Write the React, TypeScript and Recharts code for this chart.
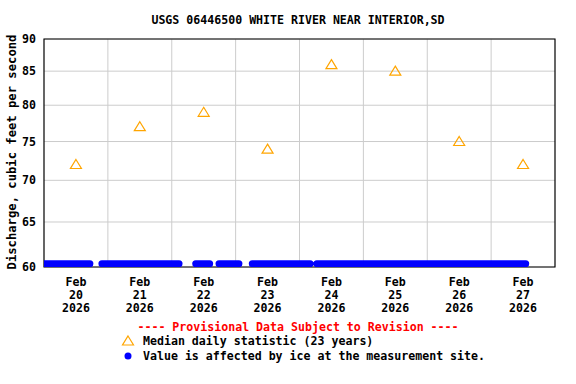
import { CartesianGrid, ComposedChart, Line, ReferenceArea, Scatter, XAxis, YAxis } from 'recharts';

const FONT = '"DejaVu Sans Mono", "Liberation Mono", monospace';

// days of Feb 2026 shown on the x axis (labels sit at noon)
const days = ['20', '21', '22', '23', '24', '25', '26', '27'];
const midnights = [21, 22, 23, 24, 25, 26, 27];
// median daily statistic (23 years), cfs
const medianValues = [72, 77, 79, 74, 86, 85, 75, 72];
const yTicks = [60, 65, 70, 75, 80, 85, 90];

// ice-affected readings sit at the bottom of the scale
const iceValue = 60.35;
const iceSpans = [
  ['20 00:00', '20 17:15'],
  ['20 21:45', '22 02:45'],
  ['22 09:00', '22 14:15'],
  ['22 17:45', '23 01:15'],
  ['23 06:15', '24 04:00'],
  ['24 06:30', '27 13:00'],
];

const toDay = (s: string) => {
  const [d, hm] = s.split(' ');
  const [h, m] = hm.split(':');
  return Number(d) + (Number(h) + Number(m) / 60) / 24;
};

const medianData = days.map((d, i) => ({ t: Number(d) + 0.5, v: medianValues[i] }));

const iceData: { t: number; v: number | null }[] = [];
iceSpans.forEach(([a, b]) => {
  iceData.push({ t: toDay(a), v: iceValue });
  iceData.push({ t: toDay(b), v: iceValue });
  iceData.push({ t: toDay(b), v: null });
});

const DayTick = ({ x, y, payload }: any) => {
  const d = String(Math.floor(payload.value));
  return (
    <g fontFamily={FONT} fontSize={11.6} fontWeight="bold" fill="#000">
      <text x={x} y={y + 19} textAnchor="middle">Feb</text>
      <text x={x} y={y + 32} textAnchor="middle">{d}</text>
      <text x={x} y={y + 45} textAnchor="middle">2026</text>
    </g>
  );
};

const Triangle = ({ cx, cy }: any) => (
  <path
    d={`M${cx},${cy - 5}L${cx + 5.5},${cy + 4}L${cx - 5.5},${cy + 4}Z`}
    fill="none"
    stroke="#ffa500"
    strokeWidth={1.2}
  />
);

export default function App() {
  return (
    <div style={{ position: 'absolute', left: 0, top: 0, width: 576, height: 384, background: '#fff' }}>
      <ComposedChart
        width={576}
        height={384}
        margin={{ top: 39, right: 21, bottom: 87, left: 0 }}
      >
        <CartesianGrid stroke="#cccccc" verticalValues={midnights} horizontalValues={yTicks} />
        <XAxis
          type="number"
          dataKey="t"
          domain={[20, 28]}
          allowDataOverflow
          ticks={days.map((d) => Number(d) + 0.5)}
          interval={0}
          tick={<DayTick />}
          tickLine={false}
          axisLine={false}
          tickSize={0}
          tickMargin={0}
          height={30}
        />
        <YAxis
          type="number"
          dataKey="v"
          scale="log"
          domain={[60, 90]}
          allowDataOverflow
          ticks={yTicks}
          interval={0}
          width={44}
          tickLine={false}
          axisLine={false}
          tickSize={0}
          tickMargin={8}
          tick={{ fontFamily: FONT, fontSize: 11.6, fontWeight: 'bold', fill: '#000' }}
        />
        <Line
          data={iceData}
          dataKey="v"
          stroke="#0000ff"
          strokeWidth={7}
          strokeLinecap="round"
          strokeLinejoin="round"
          dot={false}
          activeDot={false}
          connectNulls={false}
          isAnimationActive={false}
        />
        <Scatter data={medianData} dataKey="v" shape={<Triangle />} isAnimationActive={false} />
        <ReferenceArea
          x1={20}
          x2={28}
          y1={60}
          y2={90}
          fill="none"
          stroke="#000"
          strokeWidth={1.2}
          ifOverflow="visible"
        />
      </ComposedChart>
      <svg
        width={576}
        height={384}
        style={{ position: 'absolute', left: 0, top: 0, pointerEvents: 'none' }}
        fontFamily={FONT}
        fontWeight="bold"
        fontSize={11.6}
      >
        <text x={298} y={24} textAnchor="middle">USGS 06446500 WHITE RIVER NEAR INTERIOR,SD</text>
        <text x={16} y={152} textAnchor="middle" fontSize={12.2} transform="rotate(-90,16,152)">
          Discharge, cubic feet per second
        </text>
        <text x={298} y={331} textAnchor="middle" fill="#ff0000">
          ---- Provisional Data Subject to Revision ----
        </text>
        <path d="M128,336L133.5,345L122.5,345Z" fill="none" stroke="#ffa500" strokeWidth={1.2} />
        <text x={143} y={345}>Median daily statistic (23 years)</text>
        <circle cx={128} cy={356} r={3.5} fill="#0000ff" />
        <text x={143} y={360}>Value is affected by ice at the measurement site.</text>
      </svg>
    </div>
  );
}
